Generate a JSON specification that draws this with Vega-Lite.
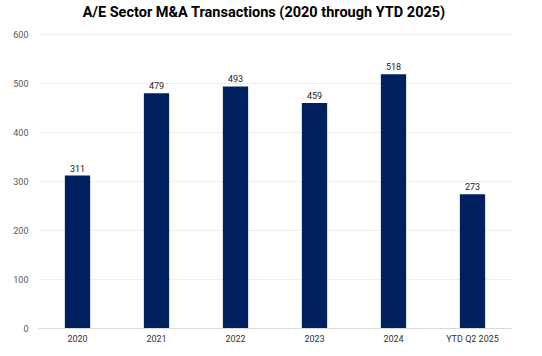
{
  "$schema": "https://vega.github.io/schema/vega-lite/v6.json",
  "width": 474,
  "height": 294,
  "autosize": {"type": "none"},
  "padding": {"left": 38, "top": 34, "right": 30, "bottom": 28},
  "background": "white",
  "title": {
    "text": "A/E Sector M&A Transactions (2020 through YTD 2025)",
    "font": "Roboto",
    "fontSize": 14.5,
    "fontWeight": "bold",
    "color": "#000000",
    "anchor": "middle",
    "dx": -11,
    "offset": 10
  },
  "data": {
    "values": [
      {"year": "2020", "count": 311},
      {"year": "2021", "count": 479},
      {"year": "2022", "count": 493},
      {"year": "2023", "count": 459},
      {"year": "2024", "count": 518},
      {"year": "YTD Q2 2025", "count": 273}
    ]
  },
  "config": {
    "view": {"stroke": null},
    "font": "Roboto"
  },
  "encoding": {
    "x": {
      "field": "year",
      "type": "nominal",
      "sort": null,
      "scale": {"paddingInner": 0.68, "paddingOuter": 0.34},
      "axis": {
        "title": null,
        "labelAngle": 0,
        "labelFontSize": 9,
        "labelColor": "#333333",
        "labelPadding": 6,
        "ticks": false,
        "domain": true,
        "domainColor": "#d9d9d9",
        "domainWidth": 1
      }
    },
    "y": {
      "field": "count",
      "type": "quantitative",
      "scale": {"domain": [0, 600]},
      "axis": {
        "title": null,
        "values": [0, 100, 200, 300, 400, 500, 600],
        "labelFontSize": 9,
        "labelColor": "#595959",
        "labelPadding": 10,
        "ticks": false,
        "domain": false,
        "gridColor": "#eeeeee",
        "gridWidth": 1
      }
    }
  },
  "layer": [
    {"mark": {"type": "bar", "color": "#002060"}},
    {
      "mark": {"type": "text", "dy": -7, "fontSize": 9, "color": "#222222"},
      "encoding": {"text": {"field": "count", "type": "quantitative"}}
    }
  ]
}
